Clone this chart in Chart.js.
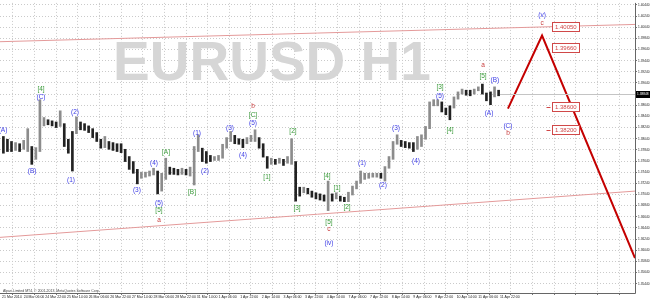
<!DOCTYPE html>
<html>
<head>
<meta charset="utf-8">
<script src="https://cdn.jsdelivr.net/npm/chart.js@4.4.0/dist/chart.umd.min.js"></script>
<style>
  html, body { margin: 0; padding: 0; background: #fff; }
  #wrap { width: 650px; height: 300px; }
</style>
</head>
<body>
<div id="wrap"><canvas id="eurusd" width="650" height="300"></canvas></div>
<script>
var highs = [
  1.3808, 1.3803, 1.3799, 1.3797, 1.3795, 1.3801, 1.3822, 1.3790, 1.3788, 1.3874,
  1.3842, 1.3838, 1.3836, 1.3834, 1.3854, 1.3831, 1.3803, 1.3817, 1.3843, 1.3834,
  1.3831, 1.3827, 1.3822, 1.3815, 1.3803, 1.3808, 1.3799, 1.3797, 1.3795, 1.3795,
  1.3785, 1.3772, 1.3763, 1.3749, 1.3744, 1.3744, 1.3746, 1.3751, 1.3746, 1.3742,
  1.3769, 1.3753, 1.3751, 1.3749, 1.3751, 1.3749, 1.3753, 1.3790, 1.3811, 1.3787,
  1.3781, 1.3774, 1.3772, 1.3774, 1.3794, 1.3806, 1.3817, 1.3810, 1.3804, 1.3803,
  1.3806, 1.3810, 1.3820, 1.3806, 1.3795, 1.3772, 1.3769, 1.3767, 1.3769, 1.3767,
  1.3772, 1.3804, 1.3763, 1.3717, 1.3717, 1.3715, 1.3710, 1.3707, 1.3705, 1.3703,
  1.3728, 1.3705, 1.3707, 1.3701, 1.3699, 1.3708, 1.3719, 1.3728, 1.3746, 1.3742,
  1.3742, 1.3742, 1.3742, 1.3742, 1.3754, 1.3772, 1.3799, 1.3811, 1.3801, 1.3799,
  1.3797, 1.3797, 1.3808, 1.3811, 1.3826, 1.3870, 1.3874, 1.3874, 1.3870, 1.3859,
  1.3863, 1.3879, 1.3888, 1.3893, 1.3891, 1.3891, 1.3893, 1.3897, 1.3902, 1.3886,
  1.3888, 1.3897, 1.3891
];
var lows = [
  1.3778, 1.3781, 1.3781, 1.3783, 1.3781, 1.3785, 1.3781, 1.3758, 1.3767, 1.3781,
  1.3827, 1.3829, 1.3827, 1.3824, 1.3826, 1.3790, 1.3778, 1.3746, 1.3813, 1.3820,
  1.3819, 1.3815, 1.3806, 1.3799, 1.3787, 1.3788, 1.3785, 1.3783, 1.3781, 1.3779,
  1.3763, 1.3749, 1.3742, 1.3723, 1.3733, 1.3735, 1.3737, 1.3739, 1.3705, 1.3710,
  1.3731, 1.3740, 1.3740, 1.3739, 1.3740, 1.3739, 1.3737, 1.3721, 1.3781, 1.3763,
  1.3760, 1.3763, 1.3765, 1.3765, 1.3769, 1.3787, 1.3799, 1.3795, 1.3794, 1.3788,
  1.3795, 1.3799, 1.3799, 1.3787, 1.3771, 1.3751, 1.3758, 1.3758, 1.3760, 1.3756,
  1.3760, 1.3758, 1.3692, 1.3701, 1.3707, 1.3705, 1.3699, 1.3696, 1.3694, 1.3692,
  1.3675, 1.3692, 1.3696, 1.3692, 1.3691, 1.3691, 1.3703, 1.3714, 1.3724, 1.3731,
  1.3733, 1.3735, 1.3735, 1.3733, 1.3728, 1.3751, 1.3767, 1.3794, 1.3790, 1.3788,
  1.3787, 1.3781, 1.3785, 1.3790, 1.3803, 1.3822, 1.3863, 1.3863, 1.3852, 1.3847,
  1.3838, 1.3859, 1.3875, 1.3884, 1.3882, 1.3881, 1.3884, 1.3890, 1.3884, 1.3872,
  1.3865, 1.3879, 1.3881
];

// time axis labels, one every 16 hourly bars
var timeLabels = [
  '21 Mar 2014', '24 Mar 06:00', '24 Mar 22:00', '25 Mar 14:00', '26 Mar 06:00',
  '26 Mar 22:00', '27 Mar 14:00', '28 Mar 06:00', '28 Mar 22:00', '31 Mar 14:00',
  '1 Apr 06:00', '1 Apr 22:00', '2 Apr 14:00', '3 Apr 06:00', '3 Apr 22:00',
  '4 Apr 14:00', '7 Apr 06:00', '7 Apr 22:00', '8 Apr 14:00', '9 Apr 06:00',
  '9 Apr 22:00', '10 Apr 14:00', '11 Apr 06:00', '11 Apr 22:00'
];
var priceTicks = [
  1.4044, 1.4024, 1.4004, 1.3984, 1.3964, 1.3944, 1.3924, 1.3904, 1.3884, 1.3864,
  1.3844, 1.3824, 1.3804, 1.3784, 1.3764, 1.3744, 1.3724, 1.3704, 1.3684, 1.3664,
  1.3644, 1.3624, 1.3604, 1.3584, 1.3564, 1.3544
];
var lastPrice = 1.38848;

// elliott wave marks: text, hourly slot, price
var waveText = ['(A)', '(B)', '[4]', '(C)', '(2)', '(1)', '(3)', '(4)', '(5)', '[5]', 'a',
  '[A]', '[B]', '(1)', '(2)', '(3)', '(4)', 'b', '[C]', '(5)', '[1]', '[2]', '[3]', '[4]',
  '[5]', 'c', '(iv)', '[1]', '[2]', '(1)', '(2)', '(3)', '(4)', '[3]', '(5)', '[4]',
  'a', '[5]', '(A)', '(B)', '(C)', 'b', '(v)', 'c'];
var waveSlot = [0.7, 22.2, 28.8, 28.8, 53.9, 51.0, 99.7, 112.3, 116.0, 116.0, 116.0,
  121.2, 140.4, 144.1, 150.0, 168.5, 178.1, 185.5, 185.5, 185.5, 195.8, 215.0, 218.0, 240.2,
  241.6, 241.6, 241.6, 247.6, 255.0, 266.0, 281.5, 291.2, 305.9, 323.7, 323.7, 331.1,
  355.5, 355.5, 359.9, 364.3, 373.9, 373.9, 399.1, 399.1];
var wavePrice = [1.3820, 1.3746, 1.3893, 1.3879, 1.3852, 1.3730, 1.3712, 1.3760, 1.3689, 1.3675, 1.3657,
  1.3779, 1.3708, 1.3813, 1.3746, 1.3822, 1.3774, 1.3863, 1.3847, 1.3831, 1.3735, 1.3817, 1.3680, 1.3737,
  1.3655, 1.3641, 1.3616, 1.3715, 1.3682, 1.3760, 1.3721, 1.3822, 1.3763, 1.3897, 1.3881, 1.3820,
  1.3936, 1.3916, 1.3850, 1.3909, 1.3827, 1.3813, 1.4026, 1.4012];

// projected path and channel
var projSlots = [373.9, 399.1, 467.8];
var projPrices = [1.3858, 1.3989, 1.3590];
var channelSlots = [-1.5, 467.8];
var upperPrices = [1.3978, 1.4009];
var lowerPrices = [1.3627, 1.3710];

// target levels written in boxes
var levelPrices = [1.40050, 1.39660, 1.38600, 1.38200];

var FONT = '"Liberation Sans", Arial, sans-serif';
var SLOT_MIN = -1.5, SLOT_MAX = 467.8;

var gridSlots = [];
for (var k = 0; k < 30; k++) gridSlots.push(k * 16);

var barData = highs.map(function (h, i) {
  return { x: 3 * i + 1, y: [lows[i], h] };
});
var barColors = highs.map(function (h, i) {
  if (i === 0) return '#222';
  return (h + lows[i]) >= (highs[i - 1] + lows[i - 1]) ? '#8c8c8c' : '#222';
});

function toXY(slots, prices) {
  return slots.map(function (s, i) { return { x: s, y: prices[i] }; });
}

function toneOf(t) {
  if (t.charAt(0) === '(') return '#3f3fe6';
  if (t.charAt(0) === '[') return '#3a9a3a';
  return '#c83c3c';
}

var mt4Overlay = {
  id: 'mt4Overlay',
  beforeDatasetsDraw: function (chart) {
    var ctx = chart.ctx;
    ctx.save();
    ctx.fillStyle = '#d6d6d6';
    ctx.font = 'bold 55px ' + FONT;
    ctx.textAlign = 'center';
    ctx.textBaseline = 'alphabetic';
    ctx.fillText('EURUSD H1', 272, 80);
    ctx.restore();
  },
  afterDatasetsDraw: function (chart) {
    var ctx = chart.ctx, xs = chart.scales.x, ys = chart.scales.y, a = chart.chartArea;
    ctx.save();

    // bid line from the last bar to the price axis
    var by = Math.round(ys.getPixelForValue(lastPrice)) + 0.5;
    ctx.strokeStyle = '#c4c4c4';
    ctx.lineWidth = 1;
    ctx.beginPath();
    ctx.moveTo(xs.getPixelForValue(3 * (highs.length - 1) + 2), by);
    ctx.lineTo(a.right, by);
    ctx.stroke();

    // wave labels
    ctx.font = '6.5px ' + FONT;
    ctx.textAlign = 'center';
    ctx.textBaseline = 'middle';
    waveText.forEach(function (t, i) {
      ctx.fillStyle = toneOf(t);
      ctx.fillText(t, xs.getPixelForValue(waveSlot[i]), ys.getPixelForValue(wavePrice[i]));
    });

    // level boxes
    ctx.font = '6px ' + FONT;
    ctx.textAlign = 'left';
    var lx = Math.round(xs.getPixelForValue(406.5)) + 0.5;
    levelPrices.forEach(function (p, i) {
      var txt = p.toFixed(5);
      var w = Math.round(ctx.measureText(txt).width) + 5;
      var y = Math.round(ys.getPixelForValue(p));
      ctx.fillStyle = '#fff';
      ctx.fillRect(lx, y - 4.5, w, 9);
      ctx.strokeStyle = '#d04848';
      ctx.strokeRect(lx, y - 4.5, w, 9);
      ctx.fillStyle = '#d04848';
      ctx.fillText(txt, lx + 2.5, y + 0.5);
      if (i >= 2) {
        ctx.beginPath();
        ctx.moveTo(lx - 6, y + 0.5);
        ctx.lineTo(lx - 2, y + 0.5);
        ctx.stroke();
      }
    });

    // terminal copyright line
    ctx.fillStyle = '#444';
    ctx.font = '3.5px ' + FONT;
    ctx.textBaseline = 'middle';
    ctx.fillText('Alpari Limited MT4, \u00a9 2001-2013, MetaQuotes Software Corp.', a.left + 3, a.bottom - 2);
    ctx.restore();
  },
  afterDraw: function (chart) {
    var ctx = chart.ctx, ys = chart.scales.y, a = chart.chartArea;
    ctx.save();
    ctx.strokeStyle = '#666';
    ctx.lineWidth = 1;
    ctx.beginPath();
    ctx.moveTo(a.right + 0.5, a.top);
    ctx.lineTo(a.right + 0.5, a.bottom + 0.5);
    ctx.lineTo(a.left, a.bottom + 0.5);
    ctx.stroke();

    // current price tag on the axis
    var y = Math.round(ys.getPixelForValue(lastPrice));
    ctx.fillStyle = '#000';
    ctx.fillRect(a.right + 1, y - 3, 15, 7);
    ctx.fillStyle = '#fff';
    ctx.font = '3.2px ' + FONT;
    ctx.textAlign = 'left';
    ctx.textBaseline = 'middle';
    ctx.fillText(lastPrice.toFixed(5), a.right + 2, y + 0.5);
    ctx.restore();
  }
};

new Chart(document.getElementById('eurusd'), {
  type: 'bar',
  data: {
    datasets: [
      {
        type: 'line',
        data: toXY(projSlots, projPrices),
        borderColor: '#c40000',
        borderWidth: 2,
        pointRadius: 0,
        order: 1
      },
      {
        type: 'line',
        data: toXY(channelSlots, upperPrices),
        borderColor: '#e49a9a',
        borderWidth: 1,
        pointRadius: 0,
        order: 2
      },
      {
        type: 'line',
        data: toXY(channelSlots, lowerPrices),
        borderColor: '#e49a9a',
        borderWidth: 1,
        pointRadius: 0,
        order: 2
      },
      {
        type: 'bar',
        data: barData,
        backgroundColor: barColors,
        borderWidth: 0,
        barThickness: 2,
        order: 3
      }
    ]
  },
  options: {
    responsive: false,
    animation: false,
    devicePixelRatio: 1,
    layout: { padding: 0 },
    plugins: { legend: { display: false }, tooltip: { enabled: false } },
    scales: {
      x: {
        type: 'linear',
        min: SLOT_MIN,
        max: SLOT_MAX,
        offset: false,
        afterBuildTicks: function (s) {
          s.ticks = gridSlots.map(function (v) { return { value: v }; });
        },
        afterFit: function (s) { s.height = 7; },
        ticks: {
          autoSkip: false,
          maxRotation: 0,
          align: 'start',
          padding: 0,
          color: '#222',
          font: { size: 3.5, family: FONT },
          callback: function (v, i) { return timeLabels[i] || ''; }
        },
        grid: { color: '#cacaca', lineWidth: 1, drawTicks: true, tickLength: 2, tickColor: '#777' },
        border: { display: false, dash: [1, 2] }
      },
      y: {
        type: 'linear',
        position: 'right',
        min: 1.35272,
        max: 1.40476,
        afterBuildTicks: function (s) {
          s.ticks = priceTicks.map(function (v) { return { value: v }; });
        },
        afterFit: function (s) { s.width = 15; },
        ticks: {
          autoSkip: false,
          padding: 1,
          color: '#222',
          font: { size: 3.2, family: FONT },
          callback: function (v) { return v.toFixed(5); }
        },
        grid: { color: '#cacaca', lineWidth: 1, drawTicks: true, tickLength: 2, tickColor: '#777' },
        border: { display: false, dash: [1, 2] }
      }
    }
  },
  plugins: [mt4Overlay]
});
</script>
</body>
</html>
